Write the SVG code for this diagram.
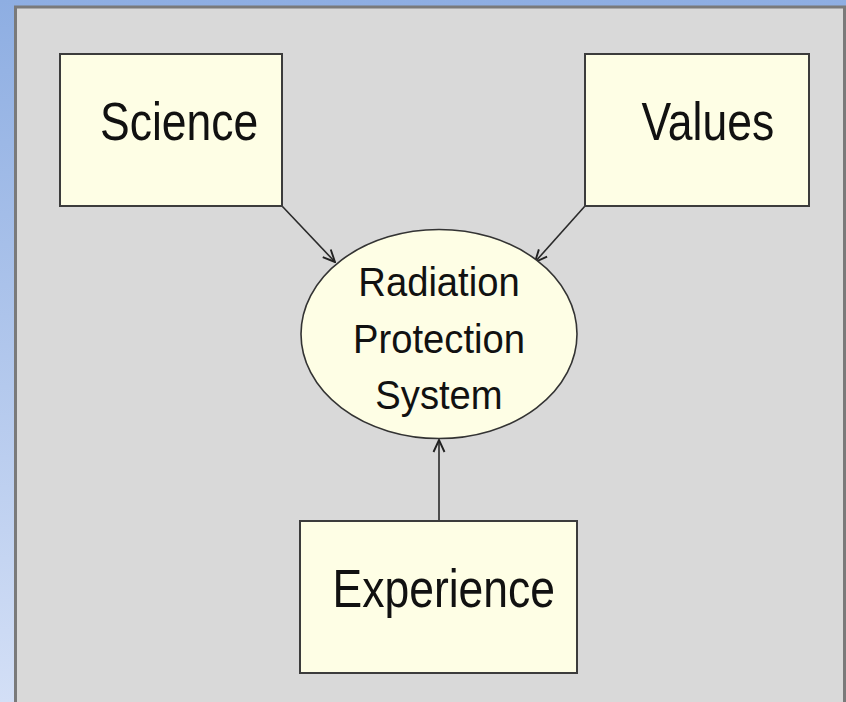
<svg xmlns="http://www.w3.org/2000/svg" width="846" height="702" viewBox="0 0 846 702">
  <defs>
    <linearGradient id="bg" x1="0" y1="0" x2="0" y2="1">
      <stop offset="0" stop-color="#8eaee2"/>
      <stop offset="1" stop-color="#d3dff6"/>
    </linearGradient>
    <marker id="arr" viewBox="0 0 14 14" refX="13" refY="7" markerWidth="14" markerHeight="14" markerUnits="userSpaceOnUse" orient="auto">
      <path d="M1,1.5 L13,7 L1,12.5" fill="none" stroke="#222" stroke-width="1.9" stroke-linejoin="miter"/>
    </marker>
    <style>
      .box { fill: #fefee5; stroke: #3c3c3c; stroke-width: 2; }
      .ell { fill: #fefee5; stroke: #333; stroke-width: 1.6; }
      .lbl { font-family: "Liberation Sans", Arial, sans-serif; fill: #111; }
      .big { font-size: 44.5px; }
      .mid { font-size: 38.2px; text-anchor: middle; }
      .conn { stroke: #2a2a2a; stroke-width: 1.6; fill: none; marker-end: url(#arr); }
    </style>
  </defs>
  <rect x="0" y="0" width="846" height="702" fill="url(#bg)"/>
  <rect x="15.5" y="7" width="829" height="700" fill="#d9d9d9" stroke="#7a7a7a" stroke-width="3"/>

  <g id="connectors">
    <line class="conn" x1="282" y1="206" x2="335" y2="262"/>
    <line class="conn" x1="585" y1="206" x2="535" y2="262"/>
    <line class="conn" x1="439" y1="521" x2="439" y2="440"/>
  </g>

  <g id="science">
    <rect class="box" x="60" y="54" width="222" height="152"/>
    <text class="lbl big" transform="translate(100,140) scale(1,1.2)">Science</text>
  </g>
  <g id="values">
    <rect class="box" x="585" y="54" width="224" height="152"/>
    <text class="lbl big" transform="translate(641.5,139.5) scale(1,1.2)">Values</text>
  </g>
  <g id="rps">
    <ellipse class="ell" cx="439" cy="334" rx="138" ry="104.5"/>
    <text class="lbl mid" transform="translate(439,296) scale(1,1.07)">Radiation</text>
    <text class="lbl mid" transform="translate(439,352.7) scale(1,1.07)">Protection</text>
    <text class="lbl mid" transform="translate(439,409.3) scale(1,1.07)">System</text>
  </g>
  <g id="experience">
    <rect class="box" x="300" y="521" width="277" height="152"/>
    <text class="lbl big" transform="translate(332.5,606.7) scale(1,1.2)">Experience</text>
  </g>
</svg>
